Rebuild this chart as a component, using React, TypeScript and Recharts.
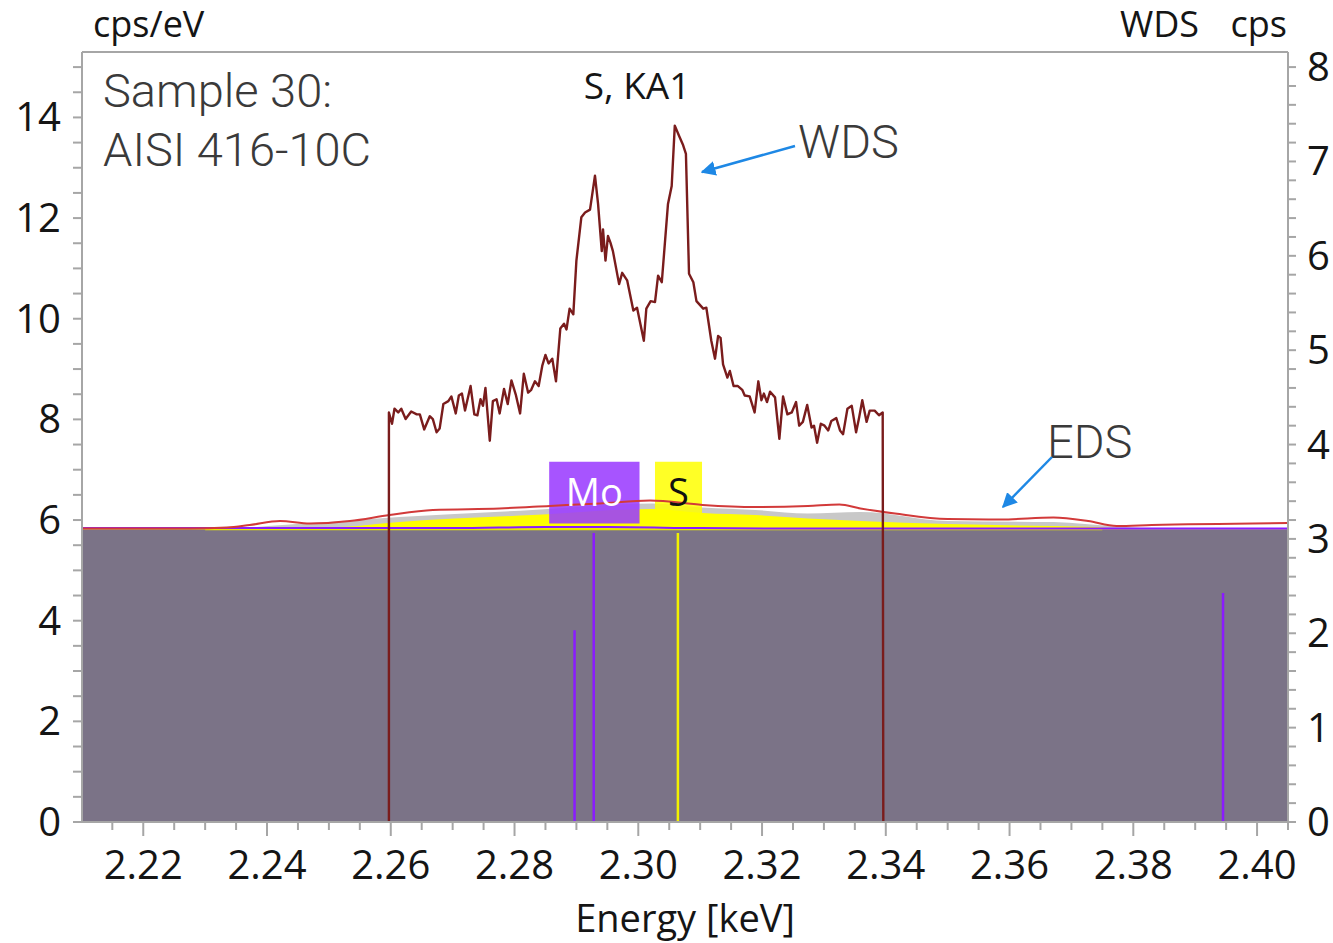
import React from 'react';
import { ComposedChart, Line, Area, XAxis, YAxis, ReferenceLine, ReferenceArea } from 'recharts';

// ---------- axis ticks ----------
const xMajorTicks = [2.22, 2.24, 2.26, 2.28, 2.3, 2.32, 2.34, 2.36, 2.38, 2.4];
const xTickLabels = ['2.22', '2.24', '2.26', '2.28', '2.30', '2.32', '2.34', '2.36', '2.38', '2.40'];
const leftMajorTicks = [0, 2, 4, 6, 8, 10, 12, 14];
const rightMajorTicks = [0, 1, 2, 3, 4, 5, 6, 7, 8];

const xTicks = Array.from({ length: 39 }, (_, i) => +(2.215 + i * 0.005).toFixed(3));
const leftTicks = Array.from({ length: 31 }, (_, i) => i * 0.5);
const rightTicks = Array.from({ length: 41 }, (_, i) => +(i * 0.2).toFixed(1));

// ---------- WDS spectrum (right axis, cps) ----------
const wdsEnergy = [2.2597, 2.2597, 2.2602, 2.2606, 2.2612, 2.2617, 2.2624, 2.2633, 2.2642, 2.2647, 2.2654, 2.2663, 2.2668, 2.2674, 2.2679, 2.2685, 2.2693, 2.2698, 2.2705, 2.271, 2.2715, 2.272, 2.2729, 2.2735, 2.274, 2.2745, 2.2749, 2.2753, 2.276, 2.2765, 2.2771, 2.2776, 2.2783, 2.2789, 2.2795, 2.2802, 2.2809, 2.2815, 2.2822, 2.2827, 2.2833, 2.2839, 2.2845, 2.285, 2.2855, 2.2861, 2.2867, 2.2874, 2.288, 2.2884, 2.2889, 2.2895, 2.29, 2.2908, 2.2914, 2.2922, 2.293, 2.2935, 2.2941, 2.2943, 2.2947, 2.2951, 2.2955, 2.2959, 2.2969, 2.2974, 2.2982, 2.2992, 2.2998, 2.3009, 2.3013, 2.302, 2.3027, 2.3032, 2.3038, 2.3048, 2.3054, 2.3059, 2.3066, 2.3072, 2.3077, 2.3082, 2.3089, 2.3094, 2.3105, 2.311, 2.3118, 2.3124, 2.3129, 2.3133, 2.3137, 2.3144, 2.3148, 2.3154, 2.3161, 2.3168, 2.3172, 2.318, 2.3188, 2.3194, 2.3199, 2.3203, 2.3208, 2.3213, 2.3221, 2.3228, 2.3234, 2.3241, 2.3248, 2.3255, 2.326, 2.3266, 2.3273, 2.328, 2.3284, 2.3289, 2.3295, 2.3301, 2.3307, 2.3312, 2.332, 2.3326, 2.3331, 2.3338, 2.3345, 2.3352, 2.3357, 2.3362, 2.3369, 2.3374, 2.3382, 2.3389, 2.3395, 2.3396];
const wdsCps = [0, 4.34, 4.22, 4.38, 4.34, 4.38, 4.27, 4.35, 4.32, 4.32, 4.16, 4.3, 4.27, 4.13, 4.17, 4.43, 4.46, 4.51, 4.33, 4.52, 4.54, 4.36, 4.62, 4.32, 4.31, 4.48, 4.41, 4.6, 4.04, 4.46, 4.48, 4.33, 4.59, 4.43, 4.68, 4.53, 4.33, 4.75, 4.55, 4.58, 4.67, 4.62, 4.84, 4.95, 4.86, 4.91, 4.67, 5.23, 5.28, 5.22, 5.44, 5.38, 5.95, 6.41, 6.46, 6.49, 6.85, 6.55, 6.05, 6.28, 5.95, 6.21, 6.14, 6.05, 5.7, 5.82, 5.74, 5.42, 5.45, 5.1, 5.44, 5.52, 5.51, 5.79, 5.72, 6.55, 6.74, 7.38, 7.27, 7.18, 7.08, 5.81, 5.72, 5.52, 5.44, 5.45, 5.1, 4.91, 5.15, 5.13, 4.85, 4.71, 4.78, 4.62, 4.62, 4.58, 4.52, 4.51, 4.34, 4.67, 4.47, 4.54, 4.45, 4.56, 4.5, 4.06, 4.51, 4.32, 4.34, 4.45, 4.2, 4.24, 4.42, 4.18, 4.2, 4.02, 4.22, 4.2, 4.15, 4.25, 4.28, 4.15, 4.11, 4.38, 4.41, 4.13, 4.29, 4.47, 4.24, 4.36, 4.36, 4.31, 4.34, 0];

// ---------- EDS (left axis, cps/eV) ----------
const edsFitEnergy = [2.2101, 2.2275, 2.2335, 2.2372, 2.2421, 2.2469, 2.2534, 2.2598, 2.2668, 2.2776, 2.2857, 2.2938, 2.3019, 2.3104, 2.3189, 2.3274, 2.3325, 2.3359, 2.3415, 2.35, 2.3586, 2.3671, 2.3727, 2.3773, 2.383, 2.405];
const edsFitValue = [5.83, 5.83, 5.85, 5.9, 5.98, 5.93, 5.98, 6.1, 6.2, 6.23, 6.28, 6.33, 6.39, 6.3, 6.26, 6.28, 6.31, 6.23, 6.13, 6.02, 6.01, 6.05, 5.98, 5.88, 5.9, 5.94];

const edsMeasEnergy = [2.2101, 2.2335, 2.2425, 2.2614, 2.2829, 2.3023, 2.3104, 2.3189, 2.3274, 2.3359, 2.35, 2.3671, 2.3773, 2.385, 2.405];
const edsMeasValue = [5.82, 5.83, 5.9, 6.06, 6.2, 6.33, 6.25, 6.2, 6.13, 6.16, 5.98, 5.96, 5.87, 5.82, 5.82];

const sFitEnergy = [2.2101, 2.234, 2.2518, 2.2614, 2.2829, 2.3023, 2.3104, 2.3189, 2.3274, 2.3359, 2.35, 2.3671, 2.3739, 2.38, 2.405];
const sFitValue = [5.81, 5.82, 5.86, 5.96, 6.1, 6.22, 6.14, 6.1, 6.03, 5.98, 5.92, 5.88, 5.86, 5.81, 5.81];

const moFitEnergy = [2.2101, 2.27, 2.285, 2.295, 2.31, 2.325, 2.405];
const moFitValue = [5.84, 5.84, 5.86, 5.86, 5.84, 5.83, 5.83];

const baseEnergy = [2.2101, 2.405];
const baseValue = [5.81, 5.81];

const sBaseEnergy = [2.23, 2.375];
const sBaseValue = [5.815, 5.815];

// ---------- KLM markers ----------
const markerElement = ['Mo', 'Mo', 'S', 'Mo'];
const markerEnergy = [2.2897, 2.2928, 2.3064, 2.3945];
const markerHeight = [3.81, 5.74, 5.74, 4.55];

const zip = (xs: number[], ys: number[]) => xs.map((e, i) => ({ e, v: ys[i] }));

const wdsData = zip(wdsEnergy, wdsCps);
const edsFitData = zip(edsFitEnergy, edsFitValue);
const edsMeasData = zip(edsMeasEnergy, edsMeasValue);
const sFitData = zip(sFitEnergy, sFitValue);
const moFitData = zip(moFitEnergy, moFitValue);
const baseData = zip(baseEnergy, baseValue);
const sBaseData = zip(sBaseEnergy, sBaseValue);

const axisGray = '#a6a6a6';
const tickFont = "'Open Sans', 'Noto Sans', sans-serif";
const annoFont = "Roboto, 'Open Sans', sans-serif";
const elementColor: Record<string, string> = { Mo: '#8a1cff', S: '#f2f200' };

const near = (arr: number[], v: number) => arr.findIndex((m) => Math.abs(m - v) < 1e-6);

const XTick = (props: any) => {
  const { x, y, payload } = props;
  const idx = near(xMajorTicks, payload.value);
  const major = idx >= 0;
  return (
    <g>
      <line x1={x} x2={x} y1={y} y2={y + (major ? 14 : 8)} stroke={axisGray} strokeWidth={2} />
      {major && (
        <text x={x} y={y + 57} textAnchor="middle" fontSize={40} fill="#151515" fontFamily={tickFont}>
          {xTickLabels[idx]}
        </text>
      )}
    </g>
  );
};

const LeftTick = (props: any) => {
  const { x, y, payload } = props;
  const idx = near(leftMajorTicks, payload.value);
  return (
    <g>
      <line x1={x - 9} x2={x} y1={y} y2={y} stroke={axisGray} strokeWidth={2} />
      {idx >= 0 && (
        <text x={x - 21} y={y + 14} textAnchor="end" fontSize={40} fill="#151515" fontFamily={tickFont}>
          {String(leftMajorTicks[idx])}
        </text>
      )}
    </g>
  );
};

const RightTick = (props: any) => {
  const { x, y, payload } = props;
  const idx = near(rightMajorTicks, payload.value);
  return (
    <g>
      <line x1={x} x2={x + 8} y1={y} y2={y} stroke={axisGray} strokeWidth={2} />
      {idx >= 0 && (
        <text x={x + 19} y={y + 14} textAnchor="start" fontSize={40} fill="#151515" fontFamily={tickFont}>
          {String(rightMajorTicks[idx])}
        </text>
      )}
    </g>
  );
};

export default function App() {
  return (
    <div style={{ position: 'absolute', left: 0, top: 0, width: 1333, height: 943, background: '#fff' }}>
      <ComposedChart width={1333} height={943} margin={{ top: 52, right: 0, bottom: 0, left: 0 }}>
        <XAxis
          type="number"
          dataKey="e"
          domain={[2.2101, 2.405]}
          ticks={xTicks}
          tick={<XTick />}
          tickLine={false}
          tickSize={0}
          tickMargin={0}
          interval={0}
          height={121}
          axisLine={{ stroke: axisGray, strokeWidth: 2 }}
          allowDataOverflow
        />
        <YAxis
          yAxisId="left"
          orientation="left"
          type="number"
          width={82}
          domain={[0, 15.3]}
          ticks={leftTicks}
          tick={<LeftTick />}
          tickLine={false}
          tickSize={0}
          tickMargin={0}
          interval={0}
          axisLine={{ stroke: axisGray, strokeWidth: 2 }}
          allowDataOverflow
        />
        <YAxis
          yAxisId="right"
          orientation="right"
          type="number"
          width={45}
          domain={[0, 8.16]}
          ticks={rightTicks}
          tick={<RightTick />}
          tickLine={false}
          tickSize={0}
          tickMargin={0}
          interval={0}
          axisLine={{ stroke: axisGray, strokeWidth: 2 }}
          allowDataOverflow
        />
        <ReferenceLine yAxisId="left" y={15.3} stroke={axisGray} strokeWidth={2} />

        <Area yAxisId="left" data={edsMeasData} dataKey="v" type="monotone" stroke="none" fill="#c8c8c8" fillOpacity={1} dot={false} activeDot={false} isAnimationActive={false} />
        <Area yAxisId="left" data={sFitData} dataKey="v" type="monotone" stroke="none" fill="#ffff00" fillOpacity={1} dot={false} activeDot={false} isAnimationActive={false} />
        <Area yAxisId="left" data={baseData} dataKey="v" type="linear" stroke="none" fill="#7b7387" fillOpacity={1} dot={false} activeDot={false} isAnimationActive={false} />
        <Line yAxisId="left" data={sBaseData} dataKey="v" type="linear" stroke="#e8e800" strokeWidth={2} dot={false} activeDot={false} isAnimationActive={false} />
        <Line yAxisId="left" data={moFitData} dataKey="v" type="monotone" stroke="#8a1cff" strokeWidth={2} dot={false} activeDot={false} isAnimationActive={false} />
        <Line yAxisId="left" data={edsFitData} dataKey="v" type="monotone" stroke="#d23a3a" strokeWidth={2} dot={false} activeDot={false} isAnimationActive={false} />

        {markerEnergy.map((e, i) => (
          <ReferenceLine
            key={'m' + i}
            yAxisId="left"
            segment={[{ x: e, y: 0 }, { x: e, y: markerHeight[i] }]}
            stroke={elementColor[markerElement[i]]}
            strokeWidth={2.5}
          />
        ))}

        <Line yAxisId="right" data={wdsData} dataKey="v" type="linear" stroke="#7a1c1c" strokeWidth={2.4} strokeLinejoin="round" dot={false} activeDot={false} isAnimationActive={false} />

        <ReferenceArea
          yAxisId="left"
          x1={2.2856}
          x2={2.3002}
          y1={5.93}
          y2={7.16}
          fill="#9b3cff"
          fillOpacity={0.88}
          stroke="none"
          label={{ value: 'Mo', position: 'center', fill: '#ffffff', fontSize: 38, fontFamily: tickFont }}
        />
        <ReferenceArea
          yAxisId="left"
          x1={2.3027}
          x2={2.3103}
          y1={5.93}
          y2={7.16}
          fill="#ffff00"
          fillOpacity={0.85}
          stroke="none"
          label={{ value: 'S', position: 'center', fill: '#111111', fontSize: 38, fontFamily: tickFont }}
        />
      </ComposedChart>

      <svg width={1333} height={943} style={{ position: 'absolute', left: 0, top: 0, pointerEvents: 'none' }}>
        <defs>
          <marker id="arrow" viewBox="0 0 10 10" refX="9" refY="5" markerWidth="6" markerHeight="6" orient="auto-start-reverse" markerUnits="strokeWidth">
            <path d="M0,0 L10,5 L0,10 z" fill="#1e88e5" />
          </marker>
        </defs>
        <text x={93} y={37} fontSize={36} fill="#151515" fontFamily={tickFont}>cps/eV</text>
        <text x={1120} y={37} fontSize={36} fill="#151515" fontFamily={tickFont}>WDS</text>
        <text x={1287} y={37} fontSize={36} fill="#151515" fontFamily={tickFont} textAnchor="end">cps</text>
        <text x={685} y={932} fontSize={38} fill="#151515" fontFamily={tickFont} textAnchor="middle">Energy [keV]</text>

        <text x={103} y={107} fontSize={47} fill="#3a3a3a" fontFamily={annoFont} fontWeight={300}>Sample 30:</text>
        <text x={103} y={166} fontSize={47} fill="#3a3a3a" fontFamily={annoFont} fontWeight={300}>AISI 416-10C</text>
        <text x={637} y={99} fontSize={37} fill="#151515" fontFamily={tickFont} textAnchor="middle">S, KA1</text>
        <text x={798} y={158} fontSize={47} fill="#3a3a3a" fontFamily={annoFont} fontWeight={300}>WDS</text>
        <text x={1047} y={458} fontSize={47} fill="#3a3a3a" fontFamily={annoFont} fontWeight={300}>EDS</text>

        <line x1={795} y1={146} x2={702} y2={172} stroke="#1e88e5" strokeWidth={2.5} markerEnd="url(#arrow)" />
        <line x1={1052} y1={457} x2={1003} y2={507} stroke="#1e88e5" strokeWidth={2.5} markerEnd="url(#arrow)" />
      </svg>
    </div>
  );
}
